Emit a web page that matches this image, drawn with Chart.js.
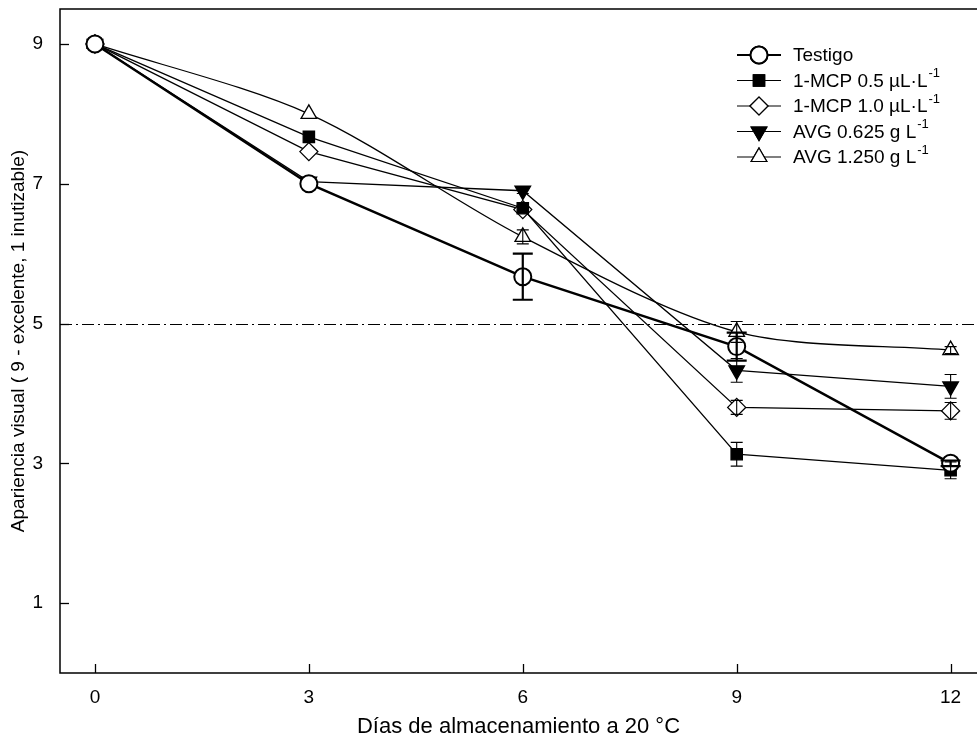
<!DOCTYPE html>
<html>
<head>
<meta charset="utf-8">
<script src="https://cdn.jsdelivr.net/npm/chart.js@4/dist/chart.umd.min.js"></script>
<style>
  html, body { margin: 0; padding: 0; background: #fff; }
  #wrap { width: 977px; height: 740px; }
</style>
</head>
<body>
<div id="wrap"><canvas id="grafico"></canvas></div>
<script>
// días de almacenamiento y apariencia visual media por tratamiento
const dias = [0, 3, 6, 9, 12];
const testigo = [9, 7.0, 5.67, 4.67, 3.0];
const mcp05 = [9, 7.67, 6.65, 3.13, 2.9];
const mcp10 = [9, 7.46, 6.63, 3.8, 3.75];
const avg0625 = [9, 7.03, 6.9, 4.33, 4.1];
const avg1250 = [9, 8.0, 6.24, 4.88, 4.62];

// error estándar
const errTestigo = [0, 0, 0.33, 0.2, 0.04];
const errMcp05 = [0, 0, 0.04, 0.17, 0.12];
const errMcp10 = [0, 0, 0.04, 0.1, 0.12];
const errAvg0625 = [0, 0, 0.04, 0.17, 0.17];
const errAvg1250 = [0, 0, 0.1, 0.15, 0.05];

const xTicks = [0, 3, 6, 9, 12];
const yTicks = [1, 3, 5, 7, 9];
const umbral = 5;

const FONT = "'Liberation Sans', Arial, sans-serif";

function serie(label, vals, errs, style, fill, width, radius, extra) {
    return Object.assign({
        label: label,
        data: dias.map((d, i) => ({ x: d, y: vals[i] })),
        errores: errs,
        borderColor: '#000',
        borderWidth: width,
        pointStyle: style,
        pointRadius: radius,
        pointHoverRadius: radius,
        pointBackgroundColor: fill,
        pointBorderColor: '#000',
        pointBorderWidth: 1.3,
        tension: 0
    }, extra || {});
}

const datasets = [
    serie('Testigo', testigo, errTestigo, 'circle', '#fff', 2.5, 8.5, { pointBorderWidth: 2 }),
    serie('1-MCP 0.5 µL·L', mcp05, errMcp05, 'rect', '#000', 1.3, 8),
    serie('1-MCP 1.0 µL·L', mcp10, errMcp10, 'rectRot', '#fff', 1.3, 9),
    serie('AVG 0.625 g L', avg0625, errAvg0625, 'triangle', '#000', 1.3, 9, { pointRotation: 180 }),
    serie('AVG 1.250 g L', avg1250, errAvg1250, 'triangle', '#fff', 1.3, 9, { tension: 0.3 })
];

// marco, ticks interiores, línea de referencia y barras de error
const extras = {
    id: 'extras',
    beforeDatasetsDraw(chart) {
        const ctx = chart.ctx, a = chart.chartArea;
        const xs = chart.scales.x, ys = chart.scales.y;
        ctx.save();
        ctx.strokeStyle = '#000';
        ctx.lineWidth = 1.5;
        ctx.beginPath();
        ctx.moveTo(a.right + 2, a.top); ctx.lineTo(a.left, a.top);
        ctx.lineTo(a.left, a.bottom); ctx.lineTo(a.right + 2, a.bottom);
        ctx.stroke();
        ctx.lineWidth = 1.3;
        xTicks.forEach(v => {
            const px = Math.round(xs.getPixelForValue(v)) + 0.5;
            ctx.beginPath(); ctx.moveTo(px, a.bottom); ctx.lineTo(px, a.bottom - 9); ctx.stroke();
        });
        yTicks.forEach(v => {
            const py = Math.round(ys.getPixelForValue(v)) + 0.5;
            ctx.beginPath(); ctx.moveTo(a.left, py); ctx.lineTo(a.left + 9, py); ctx.stroke();
        });
        const py = Math.round(ys.getPixelForValue(umbral)) + 0.5;
        ctx.lineWidth = 1;
        ctx.setLineDash([12, 4, 2, 4]);
        ctx.beginPath(); ctx.moveTo(a.left, py); ctx.lineTo(a.right, py); ctx.stroke();
        ctx.restore();
    },
    afterDatasetsDraw(chart) {
        const ctx = chart.ctx;
        const xs = chart.scales.x, ys = chart.scales.y;
        ctx.save();
        ctx.strokeStyle = '#000';
        chart.data.datasets.forEach((ds, k) => {
            const gruesa = k === 0;
            ctx.lineWidth = gruesa ? 2.2 : 1.1;
            const cap = gruesa ? 10 : 6;
            ds.data.forEach((p, i) => {
                const e = ds.errores[i];
                if (!e) return;
                const px = xs.getPixelForValue(p.x);
                const y1 = ys.getPixelForValue(p.y + e), y2 = ys.getPixelForValue(p.y - e);
                ctx.beginPath();
                ctx.moveTo(px, y1); ctx.lineTo(px, y2);
                ctx.moveTo(px - cap, y1); ctx.lineTo(px + cap, y1);
                ctx.moveTo(px - cap, y2); ctx.lineTo(px + cap, y2);
                ctx.stroke();
            });
        });
        ctx.restore();
    },
    afterDraw(chart) {
        // leyenda con superíndices
        const ctx = chart.ctx;
        const x0 = 737, x1 = 781, xt = 793, y0 = 55, dy = 25.5;
        ctx.save();
        chart.data.datasets.forEach((ds, i) => {
            const y = y0 + i * dy;
            ctx.strokeStyle = '#000';
            ctx.lineWidth = ds.borderWidth === 2.5 ? 2 : 1.2;
            ctx.beginPath(); ctx.moveTo(x0, y); ctx.lineTo(x1, y); ctx.stroke();
            Chart.helpers.drawPoint(ctx, {
                pointStyle: ds.pointStyle,
                rotation: ds.pointRotation || 0,
                radius: ds.pointRadius,
                borderWidth: ds.pointBorderWidth
            }, (x0 + x1) / 2, y);
            ctx.fillStyle = ds.pointBackgroundColor;
            ctx.fill();
            ctx.stroke();
            ctx.fillStyle = '#000';
            ctx.font = '19px ' + FONT;
            ctx.textBaseline = 'middle';
            ctx.textAlign = 'left';
            ctx.fillText(ds.label, xt, y + 1);
            if (i > 0) {
                const w = ctx.measureText(ds.label).width;
                ctx.font = '13px ' + FONT;
                ctx.fillText('-1', xt + w + 1, y - 7);
            }
        });
        ctx.restore();
    }
};

new Chart(document.getElementById('grafico'), {
    type: 'line',
    data: { datasets: datasets },
    options: {
        responsive: true,
        maintainAspectRatio: false,
        animation: false,
        events: [],
        layout: { autoPadding: false, padding: { top: 9, right: 0, left: 0, bottom: 0 } },
        plugins: { legend: { display: false }, tooltip: { enabled: false } },
        scales: {
            x: {
                type: 'linear',
                min: -0.49,
                max: 12.37,
                border: { display: false },
                grid: { display: false, drawTicks: false },
                afterBuildTicks: s => { s.ticks = xTicks.map(v => ({ value: v })); },
                afterFit: s => { s.height = 67; s.paddingLeft = 0; s.paddingRight = 0; },
                ticks: { color: '#000', padding: 13, font: { family: FONT, size: 19 } },
                title: {
                    display: true,
                    text: 'Días de almacenamiento a 20 °C',
                    color: '#000',
                    padding: { top: 3, bottom: 0 },
                    font: { family: FONT, size: 22 }
                }
            },
            y: {
                min: 0,
                max: 9.5,
                border: { display: false },
                grid: { display: false, drawTicks: false },
                afterBuildTicks: s => { s.ticks = yTicks.map(v => ({ value: v })); },
                afterFit: s => { s.width = 60; s.paddingTop = 0; s.paddingBottom = 0; },
                ticks: { color: '#000', padding: 17, font: { family: FONT, size: 19 } },
                title: {
                    display: true,
                    text: 'Apariencia visual ( 9 - excelente, 1 inutizable)',
                    color: '#000',
                    padding: { top: 7, bottom: 0 },
                    font: { family: FONT, size: 19 }
                }
            }
        }
    },
    plugins: [extras]
});
</script>
</body>
</html>
